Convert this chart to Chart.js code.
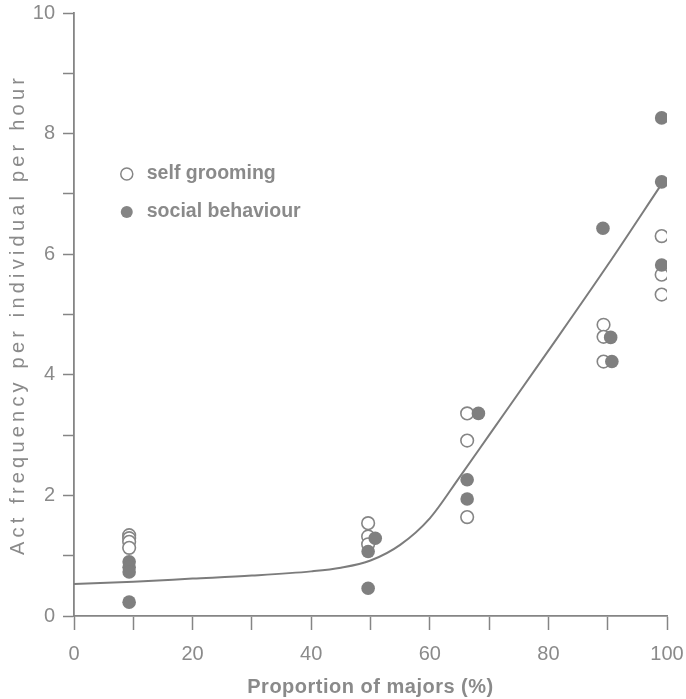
<!DOCTYPE html>
<html>
<head>
<meta charset="utf-8">
<script src="https://cdn.jsdelivr.net/npm/chart.js@4/dist/chart.umd.min.js"></script>
<style>
  html, body { margin: 0; padding: 0; background: #ffffff; }
  #wrap { width: 686px; height: 699px; position: relative; }
</style>
</head>
<body>
<div id="wrap"><canvas id="c" width="686" height="699"></canvas></div>
<script>
// Proportion of majors (%) for each observation
const selfGroomX = [9.3, 9.3, 9.3, 9.3, 49.6, 49.6, 49.6, 66.3, 66.3, 66.3, 89.3, 89.3, 89.3, 99.1, 99.1, 99.1];
// Act frequency per individual per hour, self grooming
const selfGroomY = [1.34, 1.29, 1.23, 1.13, 1.54, 1.32, 1.19, 3.36, 2.91, 1.64, 4.83, 4.63, 4.22, 6.30, 5.66, 5.33];

const socialX = [9.3, 9.3, 9.3, 9.3, 50.8, 49.6, 49.6, 68.2, 66.3, 66.3, 89.2, 90.5, 90.7, 99.1, 99.1, 99.1];
// Act frequency per individual per hour, social behaviour
const socialY = [0.90, 0.81, 0.73, 0.23, 1.29, 1.07, 0.46, 3.36, 2.26, 1.94, 6.43, 4.62, 4.22, 8.26, 7.20, 5.82];

// Fitted curve through both behaviours
const curveX = [0, 10, 20, 30, 40, 45, 50, 55, 60, 65, 70, 80, 90, 99];
const curveY = [0.53, 0.57, 0.62, 0.67, 0.74, 0.80, 0.92, 1.18, 1.62, 2.30, 3.00, 4.40, 5.82, 7.15];

const xTickLabels = [0, 20, 40, 60, 80, 100];
const yTickLabels = [0, 2, 4, 6, 8, 10];

const legendLabels = ['self grooming', 'social behaviour'];

const GREY = '#858585';
const TEXT = '#8a8a8a';
const FONT = '"Liberation Sans", Arial, sans-serif';

const toPts = (xs, ys) => xs.map((x, i) => ({ x: x, y: ys[i] }));

// Wide tracking for the axis titles
const titleSpacing = { x: '0.5px', y: '4.2px' };
const trackingPlugin = {
  id: 'tracking',
  beforeDraw(chart) {
    ['x', 'y'].forEach(id => {
      const sc = chart.scales[id];
      if (!sc || sc._tracked) return;
      const orig = sc.drawTitle;
      sc.drawTitle = function () {
        const c = this.ctx;
        c.save();
        c.letterSpacing = titleSpacing[id];
        orig.call(this);
        c.restore();
      };
      sc._tracked = true;
    });
  }
};

// Small in-plot key: open and filled circle with label
const keyPlugin = {
  id: 'key',
  afterDatasetsDraw(chart) {
    const { ctx, scales } = chart;
    const x0 = scales.x.getPixelForValue(8.9);
    const rows = [scales.y.getPixelForValue(7.33), scales.y.getPixelForValue(6.70)];
    ctx.save();
    rows.forEach((y, i) => {
      ctx.beginPath();
      ctx.arc(x0, y, 6, 0, Math.PI * 2);
      ctx.lineWidth = 1.5;
      if (i === 0) {
        ctx.fillStyle = '#ffffff';
        ctx.fill();
        ctx.strokeStyle = GREY;
        ctx.stroke();
      } else {
        ctx.fillStyle = GREY;
        ctx.fill();
      }
      ctx.fillStyle = TEXT;
      ctx.font = 'bold 19.5px ' + FONT;
      ctx.textBaseline = 'middle';
      ctx.textAlign = 'left';
      ctx.fillText(legendLabels[i], x0 + 20, y);
    });
    ctx.restore();
  }
};

new Chart(document.getElementById('c'), {
  type: 'scatter',
  data: {
    datasets: [
      {
        label: 'fit',
        type: 'line',
        data: toPts(curveX, curveY),
        borderColor: '#7c7c7c',
        borderWidth: 2,
        pointRadius: 0,
        cubicInterpolationMode: 'monotone',
        fill: false,
        order: 3
      },
      {
        label: legendLabels[0],
        data: toPts(selfGroomX, selfGroomY),
        pointRadius: 6.3,
        pointBackgroundColor: '#ffffff',
        pointBorderColor: GREY,
        pointBorderWidth: 1.6,
        order: 2
      },
      {
        label: legendLabels[1],
        data: toPts(socialX, socialY),
        pointRadius: 6.8,
        pointBackgroundColor: '#7f7f7f',
        pointBorderColor: '#7f7f7f',
        pointBorderWidth: 0,
        order: 1
      }
    ]
  },
  options: {
    responsive: false,
    animation: false,
    layout: { padding: { left: 0, top: 13, right: 19, bottom: 0 } },
    plugins: {
      legend: { display: false },
      tooltip: { enabled: false }
    },
    scales: {
      x: {
        type: 'linear',
        min: 0,
        max: 100,
        afterFit: s => {
          s.height = 83;
          s.paddingLeft = 0;
          s.paddingRight = 0;
        },
        ticks: {
          stepSize: 10,
          color: TEXT,
          font: { family: FONT, size: 20 },
          padding: 12,
          maxRotation: 0,
          callback: v => (xTickLabels.includes(v) ? String(v) : '')
        },
        grid: {
          drawOnChartArea: false,
          drawTicks: true,
          tickLength: 14,
          tickWidth: 1.5,
          tickColor: GREY
        },
        border: { display: true, color: GREY, width: 1.8 },
        title: {
          display: true,
          text: 'Proportion of majors (%)',
          color: TEXT,
          font: { family: FONT, size: 20, weight: 'bold' },
          padding: { top: 0, bottom: 0 }
        }
      },
      y: {
        type: 'linear',
        min: 0,
        max: 10,
        afterFit: s => {
          s.width = 74;
          s.paddingTop = 0;
          s.paddingBottom = 0;
        },
        ticks: {
          stepSize: 1,
          color: TEXT,
          font: { family: FONT, size: 20 },
          padding: 8,
          callback: v => (yTickLabels.includes(v) ? String(v) : '')
        },
        grid: {
          drawOnChartArea: false,
          drawTicks: true,
          tickLength: 11,
          tickWidth: 1.5,
          tickColor: GREY
        },
        border: { display: true, color: GREY, width: 1.8 },
        title: {
          display: true,
          text: 'Act frequency per individual per hour',
          color: TEXT,
          font: { family: FONT, size: 20 },
          padding: { top: 6, bottom: 0 }
        }
      }
    }
  },
  plugins: [trackingPlugin, keyPlugin]
});
</script>
</body>
</html>
